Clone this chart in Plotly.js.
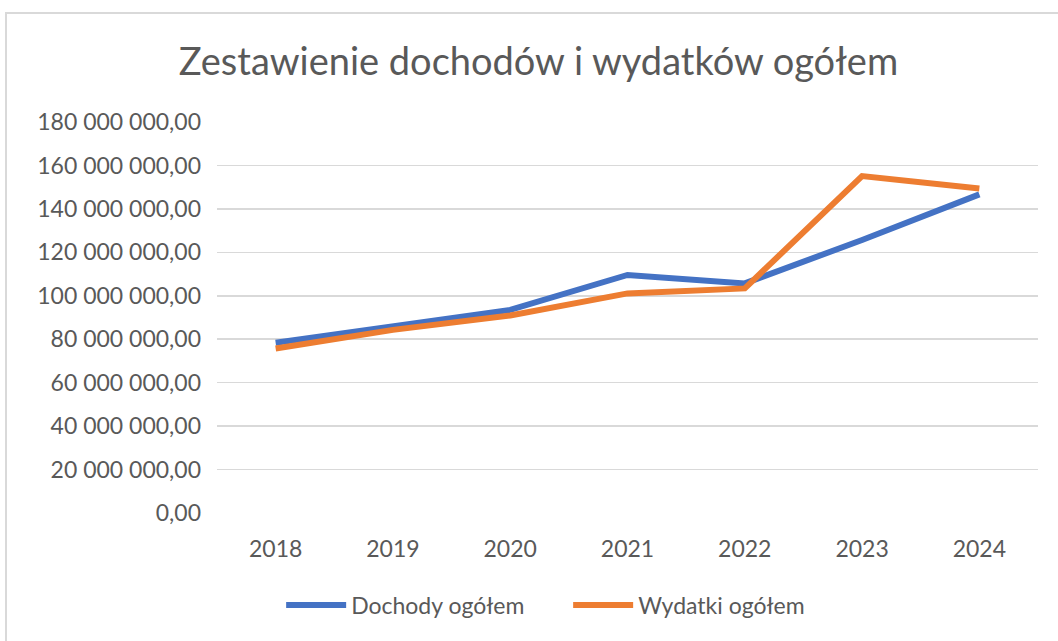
<!DOCTYPE html>
<html>
<head>
<meta charset="utf-8">
<script src="https://cdn.plot.ly/plotly-3.0.1.min.js"></script>
<style>
  html, body { margin: 0; padding: 0; background: #fff; }
  #wrap { position: relative; width: 1058px; height: 641px; overflow: hidden; }
  #chart { position: absolute; left: 0; top: 0; width: 1058px; height: 641px; }
  #frame { position: absolute; left: 5px; top: 12px; width: 1100px; height: 700px;
           border-left: 2px solid #d9d9d9; border-top: 2px solid #d9d9d9; pointer-events: none; }
</style>
</head>
<body>
<div id="wrap">
  <div id="chart"></div>
  <div id="frame"></div>
</div>
<script>
const years = ['2018', '2019', '2020', '2021', '2022', '2023', '2024'];
const dochody = [78400000, 85700000, 93500000, 109600000, 105700000, 125700000, 146700000];
const wydatki = [75700000, 84300000, 90900000, 101100000, 103400000, 155100000, 149400000];
const seriesNames = ['Dochody ogółem', 'Wydatki ogółem'];
const titleText = 'Zestawienie dochodów i wydatków ogółem';

const FONT = 'Lato, "Noto Sans", sans-serif';
const TXT = '#595959';

const traces = [
  { x: years, y: dochody, name: seriesNames[0], type: 'scatter', mode: 'lines',
    line: { color: '#4472C4', width: 6 } },
  { x: years, y: wydatki, name: seriesNames[1], type: 'scatter', mode: 'lines',
    line: { color: '#ED7D31', width: 6 } }
];

const layout = {
  width: 1058, height: 641,
  paper_bgcolor: 'rgba(0,0,0,0)', plot_bgcolor: 'rgba(0,0,0,0)',
  separators: ', ',
  margin: { l: 217, r: 20, t: 121.5, b: 127.7 },
  font: { family: FONT, color: TXT, size: 23 },
  title: { text: titleText, font: { family: FONT, size: 38, color: TXT },
           x: 0.509, xref: 'container', xanchor: 'center',
           y: 0.903, yref: 'container', yanchor: 'middle' },
  xaxis: { type: 'category', range: [-0.5, 6.5], showgrid: false, zeroline: false, showline: false,
           ticks: '', tickfont: { size: 23, color: TXT }, ticklabelstandoff: 20 },
  yaxis: { range: [0, 180000000], dtick: 20000000, tickformat: ',.2f',
           showgrid: true, gridcolor: '#d9d9d9', gridwidth: 1.5,
           zeroline: false, showline: false, ticks: '',
           tickfont: { size: 23, color: TXT }, ticklabelstandoff: 15 },
  showlegend: true,
  legend: { orientation: 'h', xref: 'container', x: 0.537, xanchor: 'center',
            yref: 'container', y: 0.056, yanchor: 'middle',
            font: { size: 23, color: TXT }, itemwidth: 60, entrywidth: 212, traceorder: 'normal' }
};

Plotly.newPlot('chart', traces, layout, { displayModeBar: false, staticPlot: true });
</script>
</body>
</html>
